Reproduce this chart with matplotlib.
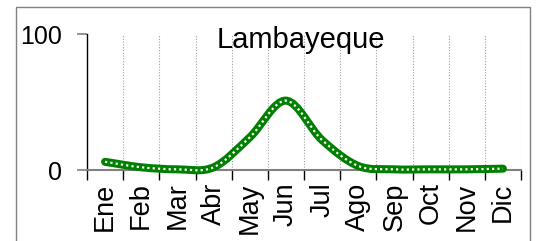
import numpy as np
import matplotlib
matplotlib.use("Agg")
import matplotlib.pyplot as plt
from matplotlib.path import Path
from matplotlib.patches import PathPatch, Rectangle

plt.rcParams['font.family'] = ['Liberation Sans', 'DejaVu Sans']

# monthly values
months = ['Ene', 'Feb', 'Mar', 'Abr', 'May', 'Jun',
          'Jul', 'Ago', 'Sep', 'Oct', 'Nov', 'Dic']
values = [6, 2, 0.5, 2, 24, 51, 22, 3, 0.5, 0.5, 0.5, 1]
title = 'Lambayeque'
y_ticks = [0, 100]


def smooth_path(xs, ys):
    # excel-style smoothed line: catmull-rom segments as cubic beziers
    pts = np.column_stack([xs, ys]).astype(float)
    ext = np.vstack([pts[0], pts, pts[-1]])
    verts = [pts[0]]
    codes = [Path.MOVETO]
    for i in range(1, len(ext) - 2):
        p0, p1, p2, p3 = ext[i - 1], ext[i], ext[i + 1], ext[i + 2]
        verts += [p1 + (p2 - p0) / 6, p2 - (p3 - p1) / 6, p2]
        codes += [Path.CURVE4] * 3
    return Path(verts, codes)


fig = plt.figure(figsize=(5.37, 2.41), dpi=100)
# outer chart border
fig.patches.append(Rectangle((16 / 537, -0.2), 514 / 537, 1.2 - 7 / 241,
                             transform=fig.transFigure, fill=False,
                             edgecolor='#808080', lw=1))

ax = fig.add_axes([87 / 537, 1 - 170 / 241, 434 / 537, 136 / 241])
ax.set_xlim(0, 12)
ax.set_ylim(0, 100)

x = np.arange(len(months)) + 0.5
path = smooth_path(x, values)
ax.add_patch(PathPatch(path, fill=False, edgecolor='#008000', lw=5.8,
                       capstyle='round', clip_on=False, zorder=3))
ax.add_patch(PathPatch(path, fill=False, edgecolor='white', lw=1.6,
                       linestyle=(0, (1, 1.4)), capstyle='butt',
                       clip_on=False, zorder=4))

for s in ['top', 'right']:
    ax.spines[s].set_visible(False)
ax.spines['left'].set_color('black')
ax.spines['left'].set_linewidth(1)
ax.spines['bottom'].set_color('#808080')
ax.spines['bottom'].set_linewidth(1.5)

# month boundaries as ticks, names at centers
ax.set_xticks(np.arange(13))
ax.set_xticklabels([])
ax.set_xticks(x, minor=True)
ax.set_xticklabels(months, minor=True, rotation=90, fontsize=19.5)
ax.tick_params(axis='x', which='major', length=7, width=1, color='black')
ax.tick_params(axis='x', which='minor', length=0, pad=9)
ax.set_yticks(y_ticks)
ax.set_yticklabels([str(v) for v in y_ticks], fontsize=18)
ax.tick_params(axis='y', length=7, width=1.2, color='#808080', pad=11)

for b in range(1, 13):
    ax.axvline(b, color='#a0a0a0', lw=0.8, linestyle=(0, (1, 1.5)), zorder=1)

ax.text(5.92, 89.7, title, ha='center', va='baseline', fontsize=21)
ax.patch.set_alpha(0)

fig.savefig('out.png', dpi=100)
